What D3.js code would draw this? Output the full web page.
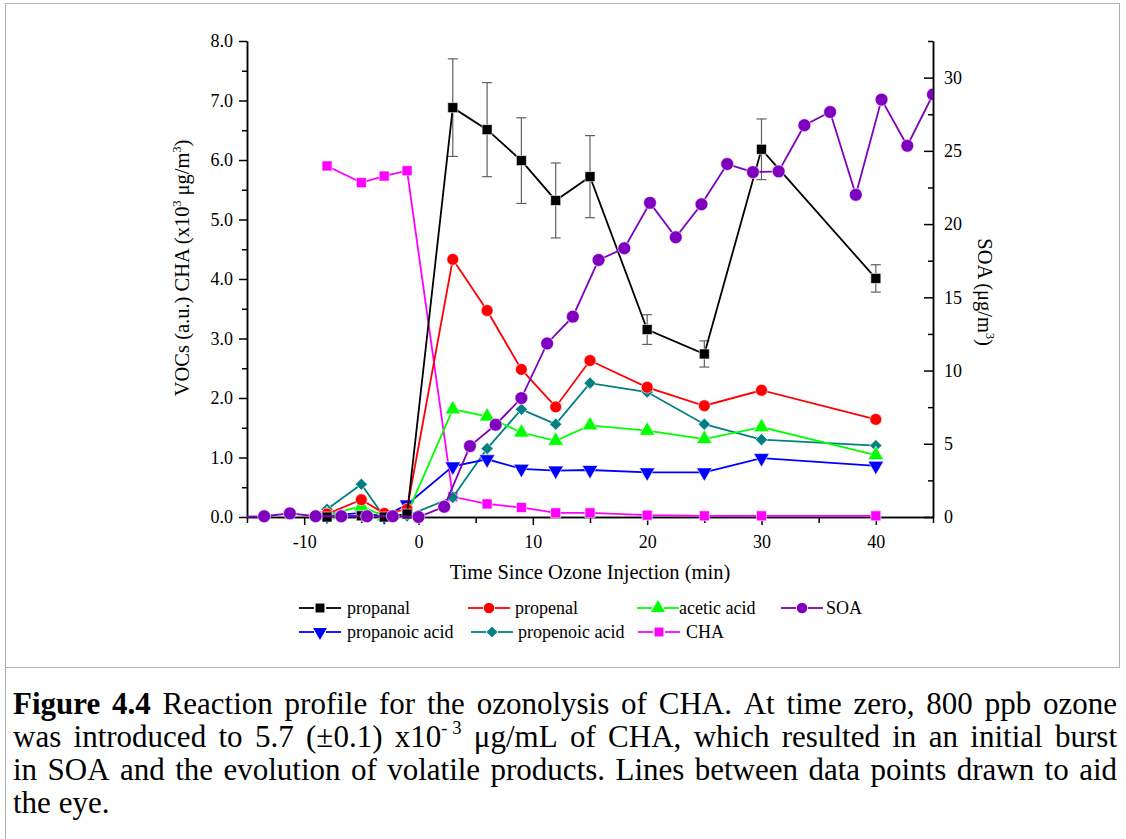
<!DOCTYPE html>
<html><head><meta charset="utf-8">
<script src="https://cdn.jsdelivr.net/npm/d3@7/dist/d3.min.js"></script>
<style>
body{margin:0;background:#fff;}
#wrap{position:relative;width:1126px;height:839px;overflow:hidden;background:#fff;}
svg{position:absolute;left:0;top:0;}
</style></head>
<body><div id="wrap"><svg id="chart" width="1126" height="839"></svg></div>
<script>
// ---- data ----
const vocTimes = [-8, -5, -3, -1, 3, 6, 9, 12, 15, 20, 25, 30, 40];
const propanal = [0.0, 0.02, 0.0, 0.05, 6.88, 6.51, 5.99, 5.32, 5.72, 3.15, 2.74, 6.18, 4.01];
const propanalErr = [0, 0, 0, 0, 0.82, 0.79, 0.72, 0.63, 0.69, 0.25, 0.22, 0.51, 0.23];
const propenal = [0.05, 0.29, 0.06, 0.13, 4.33, 3.47, 2.48, 1.85, 2.63, 2.18, 1.87, 2.13, 1.64];
const aceticAcid = [0.03, 0.18, 0.01, 0.05, 1.81, 1.69, 1.42, 1.28, 1.54, 1.45, 1.31, 1.51, 1.04];
const propanoicAcid = [0.02, 0.07, 0.01, 0.21, 0.85, 0.97, 0.81, 0.78, 0.79, 0.75, 0.75, 0.99, 0.86];
const propenoicAcid = [0.13, 0.55, 0.0, 0.02, 0.33, 1.15, 1.81, 1.56, 2.25, 2.10, 1.56, 1.30, 1.20];
const cha = [5.90, 5.62, 5.73, 5.82, 0.34, 0.22, 0.16, 0.07, 0.07, 0.03, 0.02, 0.02, 0.02];
const soaTimes = [-15.75, -13.5, -11.25, -9, -6.75, -4.5, -2.25, 0, 2.25, 4.5, 6.75, 9, 11.25, 13.5, 15.75, 18, 20.25, 22.5, 24.75, 27, 29.25, 31.5, 33.75, 36, 38.25, 40.5, 42.75, 45];
const soa = [0.0, 0.05, 0.25, 0.05, 0.05, 0.05, 0.05, 0.0, 0.7, 4.84, 6.3, 8.12, 11.85, 13.68, 17.55, 18.35, 21.45, 19.1, 21.35, 24.1, 23.55, 23.6, 26.75, 27.65, 22.0, 28.5, 25.35, 28.85];
const xMajorTicks = [-10, 0, 10, 20, 30, 40];
const xMinorTicks = [-15, -5, 5, 15, 25, 35, 45];
const yLeftMajor = [0, 1, 2, 3, 4, 5, 6, 7, 8];
const yLeftMinor = [0.5, 1.5, 2.5, 3.5, 4.5, 5.5, 6.5, 7.5];
const yRightMajor = [0, 5, 10, 15, 20, 25, 30];
const yRightMinor = [2.5, 7.5, 12.5, 17.5, 22.5, 27.5, 32.5];
const captionLines = [
  '**Figure **4.4 Reaction profile for the ozonolysis of CHA. At time zero, 800 ppb ozone',
  'was introduced to 5.7 (±0.1) x10^-\u00a03 μg/mL of CHA, which resulted in an initial burst',
  'in SOA and the evolution of volatile products. Lines between data points drawn to aid',
  'the eye.'
];

const FONT = '"Liberation Serif","Times New Roman",serif';
const svg = d3.select('#chart');

// frame
svg.append('rect').attr('x', 5.5).attr('y', 3.5).attr('width', 1114).attr('height', 664)
  .attr('fill', 'none').attr('stroke', '#b0b0b0').attr('stroke-width', 1);
svg.append('line').attr('x1', 5.5).attr('x2', 5.5).attr('y1', 668).attr('y2', 839).attr('stroke', '#b0b0b0');

const L = 247, R = 933, T = 41, B = 517;
const x = d3.scaleLinear().domain([-15, 45]).range([L, R]);
const yL = d3.scaleLinear().domain([0, 8]).range([B, T]);
const yR = d3.scaleLinear().domain([0, 32.5]).range([B, T]);

function styleAxis(g) {
  g.attr('font-family', FONT);
  g.selectAll('text').attr('font-family', FONT).attr('font-size', 18).attr('fill', '#000');
  g.selectAll('line').attr('stroke', '#000').attr('stroke-width', 1.5);
  g.select('.domain').attr('stroke', '#000').attr('stroke-width', 1.5);
}
// bottom
svg.append('g').attr('transform', `translate(0,${B})`)
  .call(d3.axisBottom(x).tickValues(xMinorTicks).tickSize(6).tickSizeOuter(0).tickFormat(''))
  .call(styleAxis);
svg.append('g').attr('transform', `translate(0,${B})`)
  .call(d3.axisBottom(x).tickValues(xMajorTicks).tickSize(8).tickSizeOuter(0).tickPadding(10).tickFormat(d3.format('d')))
  .call(styleAxis)
  .call(g => g.selectAll('text').text(d => d < 0 ? '-' + Math.abs(d) : d));
// left
svg.append('g').attr('transform', `translate(${L},0)`)
  .call(d3.axisLeft(yL).tickValues(yLeftMinor).tickSize(5).tickSizeOuter(0).tickFormat(''))
  .call(styleAxis);
svg.append('g').attr('transform', `translate(${L},0)`)
  .call(d3.axisLeft(yL).tickValues(yLeftMajor).tickSize(8).tickSizeOuter(0).tickPadding(6).tickFormat(d3.format('.1f')))
  .call(styleAxis);
// right (ticks inward)
svg.append('g').attr('transform', `translate(${R},0)`)
  .call(d3.axisRight(yR).tickValues(yRightMinor).tickSize(-5).tickSizeOuter(0).tickFormat(''))
  .call(styleAxis);
svg.append('g').attr('transform', `translate(${R},0)`)
  .call(d3.axisRight(yR).tickValues(yRightMajor).tickSize(-9).tickSizeOuter(0).tickPadding(11).tickFormat(d3.format('d')))
  .call(styleAxis);

// axis titles
svg.append('text').attr('x', 590).attr('y', 579).attr('text-anchor', 'middle')
  .attr('font-family', FONT).attr('font-size', 20.5).text('Time Since Ozone Injection (min)');
const lt = svg.append('text').attr('transform', 'translate(189,268) rotate(-90)').attr('text-anchor', 'middle')
  .attr('font-family', FONT).attr('font-size', 20.5);
lt.append('tspan').text('VOCs (a.u.) CHA (x10');
lt.append('tspan').attr('font-size', 12).attr('dy', -8).text('3');
lt.append('tspan').attr('dy', 8).text(' μg/m');
lt.append('tspan').attr('font-size', 12).attr('dy', -8).text('3');
lt.append('tspan').attr('dy', 8).text(')');
const rt = svg.append('text').attr('transform', 'translate(978,292) rotate(90)').attr('text-anchor', 'middle')
  .attr('font-family', FONT).attr('font-size', 20.5);
rt.append('tspan').text('SOA (μg/m');
rt.append('tspan').attr('font-size', 12).attr('dy', -8).text('3');
rt.append('tspan').attr('dy', 8).text(')');

// markers
const sym = {
  square: {t: d3.symbolSquare, a: 100, r: 0},
  circle: {t: d3.symbolCircle, a: 110, r: 0},
  bigcircle: {t: d3.symbolCircle, a: 130, r: 0},
  triangle: {t: d3.symbolTriangle, a: 105, r: 0},
  triangleDown: {t: d3.symbolTriangle, a: 105, r: 180},
  diamond: {t: d3.symbolSquare, a: 74, r: 45}
};
function markerPath(shape) { return d3.symbol(sym[shape].t, sym[shape].a)(); }

const series = [
  {name: 'propanal', t: vocTimes, v: propanal, color: '#000000', shape: 'square'},
  {name: 'propenal', t: vocTimes, v: propenal, color: '#ff0000', shape: 'circle'},
  {name: 'acetic acid', t: vocTimes, v: aceticAcid, color: '#00ff00', shape: 'triangle'},
  {name: 'propanoic acid', t: vocTimes, v: propanoicAcid, color: '#0000ff', shape: 'triangleDown'},
  {name: 'propenoic acid', t: vocTimes, v: propenoicAcid, color: '#008080', shape: 'diamond'},
  {name: 'CHA', t: vocTimes, v: cha, color: '#ff00ff', shape: 'square'}
];
const soaSeries = {name: 'SOA', t: soaTimes, v: soa, color: '#8000c0', shape: 'bigcircle'};

svg.append('defs').append('clipPath').attr('id', 'plotclip')
  .append('rect').attr('x', L).attr('y', 0).attr('width', R - L).attr('height', B + 10);

// error bars for propanal
const eb = svg.append('g').attr('stroke', '#606060').attr('stroke-width', 1.2);
vocTimes.forEach((t, i) => {
  const e = propanalErr[i];
  if (!e) return;
  const cx = x(t);
  eb.append('line').attr('x1', cx).attr('x2', cx).attr('y1', yL(propanal[i] + e)).attr('y2', yL(propanal[i] - e));
  eb.append('line').attr('x1', cx - 5).attr('x2', cx + 5).attr('y1', yL(propanal[i] + e)).attr('y2', yL(propanal[i] + e));
  eb.append('line').attr('x1', cx - 5).attr('x2', cx + 5).attr('y1', yL(propanal[i] - e)).attr('y2', yL(propanal[i] - e));
});

function drawSeries(s, yScale, clip) {
  const g = svg.append('g');
  if (clip) g.attr('clip-path', 'url(#plotclip)');
  const pts = s.t.map((t, i) => [x(t), yScale(s.v[i])]);
  g.append('path').attr('d', d3.line()(pts)).attr('fill', 'none').attr('stroke', s.color).attr('stroke-width', 1.8);
  g.selectAll('path.m').data(pts).join('path').attr('class', 'm')
    .attr('d', markerPath(s.shape))
    .attr('transform', d => `translate(${d[0]},${d[1]}) rotate(${sym[s.shape].r})`)
    .attr('fill', s.color).attr('stroke', '#fff').attr('stroke-width', 0.6);
}
series.slice().reverse().forEach(s => drawSeries(s, yL, false));
drawSeries(soaSeries, yR, true);

// legend
const legendItems = [
  {s: series[0], lx: 299, ly: 608, tx: 347},
  {s: series[1], lx: 468, ly: 608, tx: 515},
  {s: series[2], lx: 637, ly: 608, tx: 679},
  {s: soaSeries, lx: 781, ly: 608, tx: 826},
  {s: series[3], lx: 299, ly: 632, tx: 347},
  {s: series[4], lx: 471, ly: 632, tx: 518},
  {s: series[5], lx: 638, ly: 632, tx: 686}
];
const lg = svg.append('g');
legendItems.forEach(it => {
  const g = lg.append('g');
  [[0, 15], [27, 42]].forEach(([a, b]) => {
    g.append('line').attr('x1', it.lx + a).attr('x2', it.lx + b).attr('y1', it.ly).attr('y2', it.ly)
      .attr('stroke', it.s.color).attr('stroke-width', 1.8);
  });
  const shp = it.s.shape === 'bigcircle' ? 'circle' : it.s.shape;
  g.append('path').attr('d', d3.symbol(sym[shp].t, sym[shp].a * 0.8)())
    .attr('transform', `translate(${it.lx + 21},${it.ly}) rotate(${sym[shp].r})`)
    .attr('fill', it.s.color);
  g.append('text').attr('x', it.tx).attr('y', it.ly + 6).attr('font-family', FONT).attr('font-size', 18)
    .text(it.s.name);
});

// caption, justified manually
const capG = svg.append('g').attr('font-family', FONT).attr('fill', '#000');
const CX0 = 13, CW = 1104, baseY = 714, lineH = 33;
function buildToken(g, tok, fs) {
  const t = g.append('text').attr('font-size', fs);
  let bold = false, s = tok;
  if (s.startsWith('**')) { bold = true; s = s.replace(/\*\*/g, ''); }
  if (s.includes('^')) {
    const [base, sup] = s.split('^');
    t.append('tspan').text(base);
    t.append('tspan').attr('font-size', fs * 0.6).attr('dy', -fs * 0.42).text(sup);
  } else {
    t.text(s);
  }
  if (bold) t.attr('font-weight', 'bold');
  return t;
}
function layoutCaption(fs) {
  capG.selectAll('*').remove();
  let ok = true;
  captionLines.forEach((line, li) => {
    const toks = line.replace('**Figure **4.4', '**Figure **4.4'.replace(' ', '\u0001')).split(' ')
      .map(w => w.replace('\u0001', ' '));
    // tokens: first token may be "**Figure" + "**4.4" joined by space marker
    const words = [];
    toks.forEach(w => {
      if (w.startsWith('**Figure')) { words.push('**Figure'); words.push('**4.4'); }
      else words.push(w);
    });
    const y = baseY + li * lineH;
    const els = words.map(w => buildToken(capG, w, fs).attr('y', y));
    const widths = els.map(e => e.node().getComputedTextLength());
    const total = d3.sum(widths);
    const justify = li < captionLines.length - 1;
    let gap = fs * 0.25;
    if (justify) {
      gap = (CW - total) / (words.length - 1);
      if (gap < fs * 0.2) ok = false;
    }
    let cx = CX0;
    els.forEach((e, i) => { e.attr('x', cx); cx += widths[i] + gap; });
  });
  return ok;
}
let capFs = 31;
while (!layoutCaption(capFs) && capFs > 20) capFs -= 0.5;
</script>
</body></html>
